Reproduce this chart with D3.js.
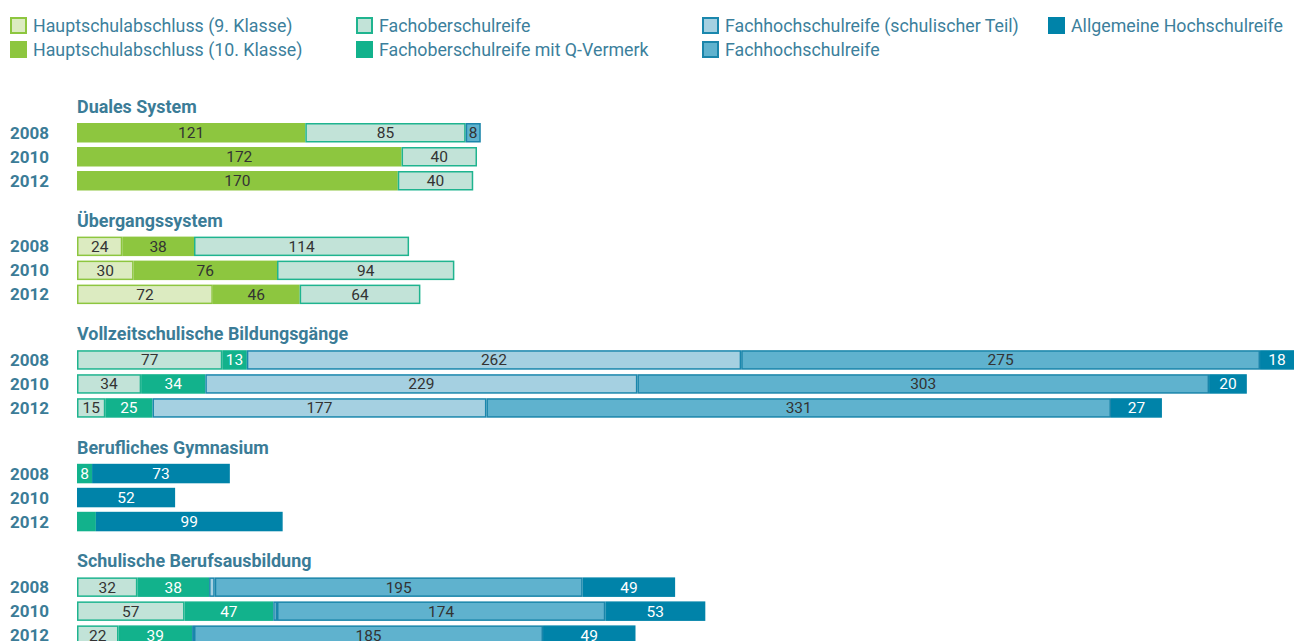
<!DOCTYPE html>
<html>
<head>
<meta charset="utf-8">
<script src="https://cdn.jsdelivr.net/npm/d3@7"></script>
<style>
  html, body { margin: 0; padding: 0; background: #fff; }
  svg { display: block; }
</style>
</head>
<body>
<svg id="chart" width="1294" height="641"></svg>
<script>
// Qualifications (stack order, left to right)
const seriesNames = [
  "Hauptschulabschluss (9. Klasse)",
  "Hauptschulabschluss (10. Klasse)",
  "Fachoberschulreife",
  "Fachoberschulreife mit Q-Vermerk",
  "Fachhochschulreife (schulischer Teil)",
  "Fachhochschulreife",
  "Allgemeine Hochschulreife"
];
const seriesKeys = ["h9", "h10", "for", "forq", "fhrs", "fhr", "ahr"];

// Sectors of the education system and survey years
const groups = [
  "Duales System",
  "Übergangssystem",
  "Vollzeitschulische Bildungsgänge",
  "Berufliches Gymnasium",
  "Schulische Berufsausbildung"
];
const years = ["2008", "2010", "2012"];

// Values per sector: one row per year, columns in seriesKeys order
const dualesSystem = [
  [0, 121, 85, 0, 0, 8, 0],
  [0, 172, 40, 0, 0, 0, 0],
  [0, 170, 40, 0, 0, 0, 0]
];
const uebergangssystem = [
  [24, 38, 114, 0, 0, 0, 0],
  [30, 76, 94, 0, 0, 0, 0],
  [72, 46, 64, 0, 0, 0, 0]
];
const vollzeitschulisch = [
  [0, 0, 77, 13, 262, 275, 18],
  [0, 0, 34, 34, 229, 303, 20],
  [0, 0, 15, 25, 177, 331, 27]
];
const beruflichesGymnasium = [
  [0, 0, 0, 8, 0, 0, 73],
  [0, 0, 0, 0, 0, 0, 52],
  [0, 0, 0, 10, 0, 0, 99]
];
const schulischeBerufsausbildung = [
  [0, 0, 32, 38, 3, 195, 49],
  [0, 0, 57, 47, 2, 174, 53],
  [0, 0, 22, 39, 1, 185, 49]
];
const groupValues = [dualesSystem, uebergangssystem, vollzeitschulisch, beruflichesGymnasium, schulischeBerufsausbildung];

// Segments at or below this value carry no number
const labelMin = [0, 0, 0, 0, 5, 0, 0];
const hiddenLabels = { "3-2-3": true };

// Styling per series
const fills   = ["#dcebc1", "#8dc63f", "#c2e3d8", "#12b28c", "#a5d0e1", "#5fb2ce", "#0083a9"];
const strokes = ["#8dc63f", "#8dc63f", "#1fb48f", "#12b28c", "#1a87ad", "#1a85aa", "#0083a9"];
const textCol = ["#333", "#333", "#333", "#fff", "#333", "#333", "#fff"];

const titleColor = "#3b7c97";
const fontStack = "Roboto, 'Open Sans', sans-serif";

const svg = d3.select("#chart");

// Horizontal value scale shared by all bars
const maxTotal = d3.max(groupValues.flat(), r => d3.sum(r));
const x = d3.scaleLinear().domain([0, maxTotal]).range([77, 1294]);

const groupStep = 113.6, firstBarTop = 123, rowStep = 24, barH = 19.5;

// Legend
const legendCols = [[0, 1], [2, 3], [4, 5], [6]];
const legendX = [10, 356, 702, 1048];
legendCols.forEach((col, ci) => {
  col.forEach((si, ri) => {
    const g = svg.append("g").attr("transform", `translate(${legendX[ci]},${17 + ri * 24})`);
    g.append("rect")
      .attr("x", 1).attr("y", 1).attr("width", 15).attr("height", 15)
      .attr("fill", fills[si]).attr("stroke", strokes[si]).attr("stroke-width", 2);
    g.append("text")
      .attr("x", 23).attr("y", 15)
      .attr("font-family", fontStack)
      .attr("font-size", 17.8)
      .attr("fill", "#3c7f9c")
      .text(seriesNames[si]);
  });
});

// Sector blocks
groups.forEach((name, gi) => {
  const top = firstBarTop + gi * groupStep;
  const g = svg.append("g");

  g.append("text")
    .attr("x", 77).attr("y", top - 10)
    .attr("font-family", fontStack)
    .attr("font-weight", "bold")
    .attr("font-size", 17.9)
    .attr("fill", titleColor)
    .text(name);

  const y = d3.scaleBand().domain(years).range([top, top + rowStep * years.length]).paddingInner(0);

  years.forEach((yr, yi) => {
    const row = groupValues[gi][yi];
    const stacked = d3.stack().keys(d3.range(seriesKeys.length))([row]);
    const yTop = y(yr);

    g.append("text")
      .attr("x", 10).attr("y", yTop + barH / 2 + 6)
      .attr("font-family", fontStack)
      .attr("font-weight", "bold")
      .attr("font-size", 17)
      .attr("fill", titleColor)
      .text(yr);

    stacked.forEach((layer, si) => {
      const [x0v, x1v] = layer[0];
      if (x1v - x0v <= 0) return;
      const x0 = x(x0v), x1 = x(x1v);
      g.append("rect")
        .attr("x", x0 + 0.75).attr("y", yTop + 0.75)
        .attr("width", Math.max(0.5, x1 - x0 - 1.5)).attr("height", barH - 1.5)
        .attr("fill", fills[si])
        .attr("stroke", strokes[si]).attr("stroke-width", 1.5);

      const v = row[si];
      if (v > labelMin[si] && !hiddenLabels[`${gi}-${yi}-${si}`]) {
        g.append("text")
          .attr("x", (x0 + x1) / 2).attr("y", yTop + barH / 2 + 5.5)
          .attr("text-anchor", "middle")
          .attr("font-family", fontStack)
          .attr("font-size", 15.5)
          .attr("fill", textCol[si])
          .text(v);
      }
    });
  });
});
</script>
</body>
</html>
